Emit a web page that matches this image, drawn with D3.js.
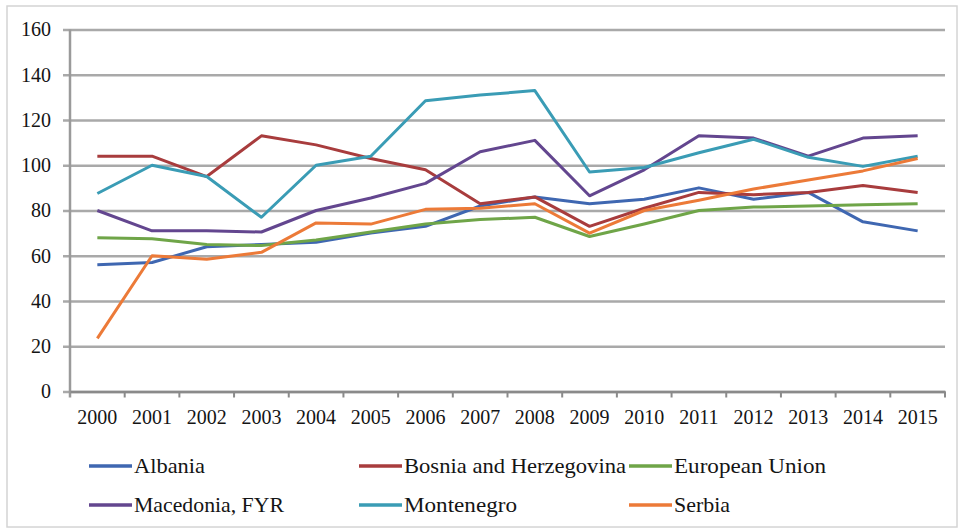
<!DOCTYPE html>
<html>
<head>
<meta charset="utf-8">
<script src="https://cdn.jsdelivr.net/npm/d3@7"></script>
<style>
  body { margin: 0; background: #fff; }
</style>
</head>
<body>
<div id="chart"></div>
<script>
// data
var years = ["2000", "2001", "2002", "2003", "2004", "2005", "2006", "2007",
             "2008", "2009", "2010", "2011", "2012", "2013", "2014", "2015"];
var yTicks = [0, 20, 40, 60, 80, 100, 120, 140, 160];

var albania    = [56, 57, 64, 65, 66, 70, 73, 82, 86, 83, 85, 90, 85, 88, 75, 71];
var bosnia     = [104, 104, 95, 113, 109, 103, 98, 83, 86, 73, 81, 88, 87, 88, 91, 88];
var eu         = [68, 67.5, 65, 64.5, 67, 70.5, 74, 76, 77, 68.5, 74, 80, 81.5, 82, 82.5, 83];
var macedonia  = [80, 71, 71, 70.5, 80, 85.5, 92, 106, 111, 86.5, 98, 113, 112, 104, 112, 113];
var montenegro = [87.5, 100, 95, 77, 100, 104, 128.5, 131, 133, 97, 99, 105.5, 111.5, 103.5, 99.5, 104];
var serbia     = [23.5, 60, 58.5, 61.5, 74.5, 74, 80.5, 81, 83, 70, 80, 84.5, 89.5, 93.5, 97.5, 103];

var seriesNames = ["Albania", "Bosnia and Herzegovina", "European Union",
                   "Macedonia, FYR", "Montenegro", "Serbia"];
var seriesValues = [albania, bosnia, eu, macedonia, montenegro, serbia];
var colors = ["#3f67b1", "#a83c3d", "#6fa548", "#63468f", "#3a9cb5", "#ec7a38"];
// legend label widths as measured on the picture (wider book face than Liberation Serif)
var legendWidths = [71, 222, 152, 150, 113, 56];

var serif = "'Liberation Serif', 'DejaVu Serif', serif";

var width = 960, height = 529;
var margin = { top: 29.5, right: 15, bottom: 137.5, left: 70 };

var svg = d3.select("#chart").append("svg")
    .attr("width", width)
    .attr("height", height);

// outer frame
svg.append("rect")
    .attr("x", 7).attr("y", 6)
    .attr("width", 950).attr("height", 521)
    .attr("fill", "none")
    .attr("stroke", "#d4d4d4")
    .attr("stroke-width", 1.5);

var x = d3.scaleBand()
    .domain(years)
    .range([margin.left, width - margin.right]);

var y = d3.scaleLinear()
    .domain([0, 160])
    .range([height - margin.bottom, margin.top]);

// horizontal gridlines + y labels
var yAxis = svg.append("g")
    .attr("transform", "translate(" + margin.left + ",0)")
    .call(d3.axisLeft(y)
        .tickValues(yTicks)
        .tickSize(-(width - margin.right - margin.left))
        .tickSizeOuter(0)
        .tickPadding(19));
yAxis.attr("font-family", null);
yAxis.select(".domain").remove();
yAxis.selectAll(".tick line")
    .attr("x1", -7)
    .attr("stroke", "#a9a9a9")
    .attr("stroke-width", 2.5);
yAxis.selectAll(".tick text")
    .style("font-family", serif)
    .style("font-size", "20px")
    .attr("fill", "#141414");

// vertical axis line
svg.append("line")
    .attr("x1", margin.left).attr("x2", margin.left)
    .attr("y1", y(160)).attr("y2", y(0) + 6)
    .attr("stroke", "#9a9a9a")
    .attr("stroke-width", 2.5);

// x axis
var xAxis = svg.append("g")
    .attr("transform", "translate(0," + y(0) + ")")
    .call(d3.axisBottom(x).tickSize(0).tickPadding(18));
xAxis.attr("font-family", null);
xAxis.select(".domain")
    .attr("stroke", "#8a8a8a")
    .attr("stroke-width", 2.5);
xAxis.selectAll(".tick text")
    .style("font-family", serif)
    .style("font-size", "20px")
    .attr("fill", "#141414");

// small tick marks on band boundaries
svg.append("g").selectAll("line")
    .data(years.slice(1).concat(["end"]))
    .enter().append("line")
    .attr("x1", function (d, i) { return x(years[0]) + x.step() * (i + 1); })
    .attr("x2", function (d, i) { return x(years[0]) + x.step() * (i + 1); })
    .attr("y1", y(0))
    .attr("y2", y(0) + 6)
    .attr("stroke", "#8a8a8a")
    .attr("stroke-width", 2);

var line = d3.line()
    .x(function (d, i) { return x(years[i]) + x.bandwidth() / 2; })
    .y(function (d) { return y(d); });

svg.append("g").selectAll("path")
    .data(seriesValues)
    .enter().append("path")
    .attr("d", line)
    .attr("fill", "none")
    .attr("stroke", function (d, i) { return colors[i]; })
    .attr("stroke-width", 3)
    .attr("stroke-linejoin", "round");

// legend, 3 columns x 2 rows
var legendX = [89, 359, 629];
var legendY = [466, 505];
var legend = svg.append("g").selectAll("g")
    .data(seriesNames)
    .enter().append("g")
    .attr("transform", function (d, i) {
        return "translate(" + legendX[i % 3] + "," + legendY[Math.floor(i / 3)] + ")";
    });
legend.append("line")
    .attr("x1", 0).attr("x2", 43)
    .attr("stroke", function (d, i) { return colors[i]; })
    .attr("stroke-width", 3.5);
legend.append("text")
    .attr("x", 45)
    .attr("dy", "0.35em")
    .attr("textLength", function (d, i) { return legendWidths[i]; })
    .attr("lengthAdjust", "spacingAndGlyphs")
    .style("font-family", serif)
    .style("font-size", "21px")
    .attr("fill", "#141414")
    .text(function (d) { return d; });
</script>
</body>
</html>
